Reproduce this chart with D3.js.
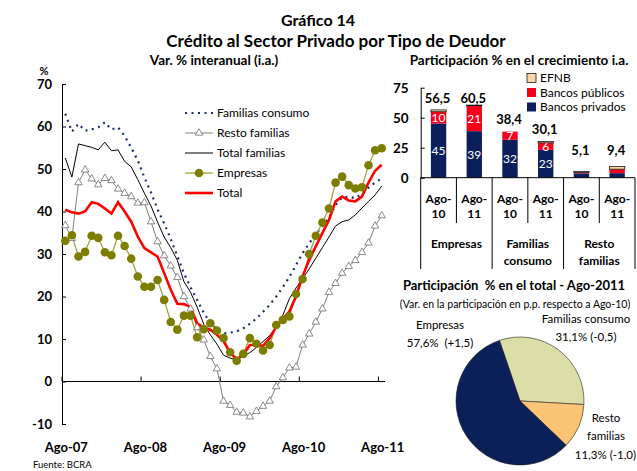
<!DOCTYPE html>
<html>
<head>
<meta charset="utf-8">
<script src="https://cdn.jsdelivr.net/npm/d3@7"></script>
<style>
  body { margin: 0; background: #fff; }
  svg { font-family: Lato, "DejaVu Sans", sans-serif; }
  text { white-space: pre; }
</style>
</head>
<body>
<svg id="chart" width="637" height="471"></svg>
<script>
/*** Data ***/
// Monthly y-o-y growth, Ago-07 .. Ago-11 (49 months)
const familiasConsumo = [63.0, 58.8, 60.6, 59.0, 59.3, 59.8, 61.0, 59.3, 59.8, 57.8, 55.0, 52.0, 48.0,
  44.5, 40.5, 37.2, 33.5, 29.5, 25.5, 22.2, 19.2, 16.2, 13.8, 12.2, 11.3,
  11.5, 11.8, 12.5, 13.6, 14.8, 16.4, 18.0, 20.0, 22.2, 24.6, 27.4, 30.2,
  32.5, 34.7, 36.5, 38.6, 41.5, 43.3, 43.5, 43.1, 44.2, 45.6, 46.8, 47.8];
const restoFamilias = [36.7, 33.7, 46.8, 49.8, 47.7, 46.3, 47.8, 47.3, 45.3, 44.3, 43.5, 42.0, 42.1,
  37.6, 32.9, 29.6, 27.2, 24.5, 20.0, 17.1, 12.7, 9.8, 5.9, 3.0, -4.6,
  -5.6, -7.2, -7.4, -8.3, -7.0, -5.8, -4.6, -1.2, 0.9, 3.2, 3.4, 8.6,
  11.2, 14.0, 17.1, 21.0, 23.1, 25.5, 27.1, 28.5, 30.4, 32.6, 36.6, 39.0];
const totalFamilias = [52.6, 48.1, 55.9, 55.5, 55.1, 54.5, 56.3, 54.3, 54.5, 51.8, 50.5, 47.5, 44.3,
  41.3, 37.5, 34.0, 31.5, 28.5, 23.5, 21.0, 17.5, 13.5, 11.0, 8.8, 6.2,
  5.5, 5.1, 6.0, 6.8, 8.0, 9.4, 10.8, 12.8, 15.6, 19.5, 22.0, 24.2,
  26.5, 29.0, 31.5, 34.0, 36.6, 37.6, 38.0, 39.2, 40.8, 42.4, 43.9, 46.0];
const empresas = [33.1, 34.4, 29.4, 30.5, 34.3, 33.8, 30.4, 29.7, 34.3, 31.9, 28.9, 24.7, 22.3,
  22.3, 23.9, 19.2, 14.0, 12.2, 15.5, 15.5, 10.4, 12.3, 13.7, 12.0, 10.2,
  6.9, 4.9, 6.5, 10.2, 8.9, 7.3, 8.6, 13.3, 14.5, 15.3, 20.6, 24.1,
  30.0, 34.3, 37.4, 40.7, 46.8, 48.2, 46.2, 45.4, 45.7, 50.9, 54.4, 54.9];
const total = [40.4, 39.8, 39.5, 40.0, 42.2, 41.8, 40.7, 39.5, 42.2, 40.0, 37.6, 34.1, 31.4,
  30.4, 29.4, 25.5, 21.6, 18.3, 18.2, 17.5, 13.7, 12.7, 12.2, 11.0, 9.5,
  6.8, 5.3, 6.3, 8.6, 8.6, 8.4, 10.2, 12.9, 14.7, 16.5, 20.0, 24.8,
  28.6, 31.8, 34.9, 38.0, 42.4, 43.5, 42.6, 42.4, 43.5, 46.8, 49.6, 51.0];
const yearLabels = ["Ago-07", "Ago-08", "Ago-09", "Ago-10", "Ago-11"];
const yTicks = [-10, 0, 10, 20, 30, 40, 50, 60, 70];

// Participation in growth (stacked bars)
const barGroups = ["Empresas", "Familias consumo", "Resto familias"];
const barPeriods = ["Ago-10", "Ago-11"];
const bancosPrivados = [45.2, 38.8, 31.6, 23.2, 3.6, 3.8];
const bancosPublicos = [9.8, 21.2, 6.8, 5.9, 0.8, 3.3];
const efnb = [1.5, 0.5, 0.0, 1.0, 0.7, 2.3];
const barTotals = [56.5, 60.5, 38.4, 30.1, 5.1, 9.4];
const barTicks = [0, 25, 50, 75];

// Share in total (pie)
const pieNames = ["Familias consumo", "Resto familias", "Empresas"];
const pieShares = [31.1, 11.3, 57.6];
const pieChanges = [-0.5, -1.0, 1.5];

// Spanish decimals with a plain hyphen for negatives
const fmt = v => d3.format(".1f")(v).replace("\u2212", "-").replace(".", ",");
const svg = d3.select("#chart");

/*** Titles ***/
svg.append("text").attr("x", 318).attr("y", 26).attr("text-anchor", "middle")
    .style("font-weight", "bold").style("font-size", "16px").text("Gráfico 14");
svg.append("text").attr("x", 336).attr("y", 47).attr("text-anchor", "middle")
    .style("font-weight", "bold").style("font-size", "17px").text("Crédito al Sector Privado por Tipo de Deudor");
svg.append("text").attr("x", 214).attr("y", 65).attr("text-anchor", "middle")
    .style("font-weight", "bold").style("font-size", "13.5px").text("Var. % interanual (i.a.)");
svg.append("text").attr("x", 519).attr("y", 65).attr("text-anchor", "middle")
    .style("font-weight", "bold").style("font-size", "13.5px").text("Participación % en el crecimiento i.a.");

/*** Line chart ***/
const x = d3.scaleBand().domain(d3.range(total.length)).range([62, 385]);
const xc = i => x(i) + x.bandwidth() / 2;
const y = d3.scaleLinear().domain([-10, 70]).range([424, 84]);

const yAxis = svg.append("g").attr("transform", "translate(62,0)")
    .call(d3.axisLeft(y).tickValues(yTicks).tickFormat(d => String(d))
      .tickSizeInner(-4).tickSizeOuter(0).tickPadding(10));
yAxis.selectAll("text").style("font-size", "13px").style("font-weight", "bold")
    .style("font-family", "Lato, 'DejaVu Sans', sans-serif").attr("fill", "#000");
yAxis.selectAll("line, path").attr("stroke", "#000");
svg.append("text").attr("x", 44).attr("y", 75).attr("text-anchor", "middle")
    .style("font-weight", "bold").style("font-size", "11px").text("%");

// x axis along zero with year ticks
svg.append("line").attr("x1", 62).attr("x2", 385).attr("y1", y(0)).attr("y2", y(0))
    .attr("stroke", "#000");
yearLabels.forEach((lab, k) => {
  const i = k * 12;
  svg.append("line").attr("x1", x(i)).attr("x2", x(i))
      .attr("y1", y(0)).attr("y2", y(0) - 5).attr("stroke", "#000");
  svg.append("text").attr("x", xc(i) + 1).attr("y", 452).attr("text-anchor", "middle")
      .style("font-weight", "bold").style("font-size", "13px").text(lab);
});
svg.append("text").attr("x", 33).attr("y", 468).style("font-size", "9.5px").text("Fuente: BCRA");

const line = d3.line().x((d, i) => xc(i)).y(d => y(d));

svg.append("path").datum(restoFamilias).attr("d", line)
    .attr("fill", "none").attr("stroke", "#808080").attr("stroke-width", 1);
svg.append("path").datum(totalFamilias).attr("d", line)
    .attr("fill", "none").attr("stroke", "#000").attr("stroke-width", 1);
svg.append("path").datum(familiasConsumo).attr("d", line)
    .attr("fill", "none").attr("stroke", "#1c2f6e").attr("stroke-width", 2.2)
    .attr("stroke-dasharray", "2,4.5");
svg.append("path").datum(empresas).attr("d", line)
    .attr("fill", "none").attr("stroke", "#a3a342").attr("stroke-width", 1.3);
svg.append("path").datum(total).attr("d", line)
    .attr("fill", "none").attr("stroke", "#ff0000").attr("stroke-width", 2.6);

const tri = d3.symbol(d3.symbolTriangle, 24);
svg.append("g").selectAll("path").data(restoFamilias).enter().append("path")
    .attr("d", tri).attr("transform", (d, i) => "translate(" + xc(i) + "," + y(d) + ")")
    .attr("fill", "#fff").attr("stroke", "#6e6e6e").attr("stroke-width", 0.8);
svg.append("g").selectAll("circle").data(empresas).enter().append("circle")
    .attr("cx", (d, i) => xc(i)).attr("cy", d => y(d)).attr("r", 4.3)
    .attr("fill", "#7d7d00");

// Legend
const legendItems = [
  {name: "Familias consumo", color: "#1c2f6e", width: 2.2, dash: "2,4.5"},
  {name: "Resto familias", color: "#808080", width: 1, marker: "tri"},
  {name: "Total familias", color: "#000", width: 1},
  {name: "Empresas", color: "#a3a342", width: 1.3, marker: "dot"},
  {name: "Total", color: "#ff0000", width: 2.6}
];
legendItems.forEach((it, k) => {
  const ly = 113 + k * 20;
  svg.append("line").attr("x1", 185).attr("x2", 213).attr("y1", ly).attr("y2", ly)
      .attr("stroke", it.color).attr("stroke-width", it.width)
      .attr("stroke-dasharray", it.dash || null);
  if (it.marker == "tri") {
    svg.append("path").attr("d", tri).attr("transform", "translate(199," + ly + ")")
        .attr("fill", "#fff").attr("stroke", "#6e6e6e").attr("stroke-width", 0.8);
  }
  if (it.marker == "dot") {
    svg.append("circle").attr("cx", 199).attr("cy", ly).attr("r", 4.3).attr("fill", "#7d7d00");
  }
  svg.append("text").attr("x", 217).attr("y", ly).attr("dy", "0.35em")
      .style("font-size", "12px").text(it.name);
});

/*** Stacked bar chart ***/
const barRows = bancosPrivados.map((v, i) => ({
  id: i, privados: v, publicos: bancosPublicos[i], efnb: efnb[i]
}));
const keys = ["privados", "publicos", "efnb"];
const barColors = {privados: "#0b1f5c", publicos: "#f5001a", efnb: "#fcd6a6"};
const series = d3.stack().keys(keys)(barRows);

const bx = d3.scaleBand().domain(d3.range(barRows.length)).range([420.7, 635])
    .paddingInner(0.57).paddingOuter(0.285);
const by = d3.scaleLinear().domain([0, 75]).range([177.7, 87.7]);

const bAxis = svg.append("g").attr("transform", "translate(420.7,0)")
    .call(d3.axisLeft(by).tickValues(barTicks).tickSizeInner(-4).tickSizeOuter(0).tickPadding(12));
bAxis.selectAll("text").style("font-size", "13.5px").style("font-weight", "bold")
    .style("font-family", "Lato, 'DejaVu Sans', sans-serif").attr("fill", "#000");
bAxis.selectAll("line, path").attr("stroke", "#000");

series.forEach(s => {
  svg.append("g").selectAll("rect").data(s.filter(d => d[1] - d[0] > 0)).enter().append("rect")
      .attr("x", d => bx(d.data.id))
      .attr("y", d => by(d[1]))
      .attr("width", bx.bandwidth())
      .attr("height", d => by(d[0]) - by(d[1]))
      .attr("fill", barColors[s.key])
      .attr("stroke", s.key == "efnb" ? "#1a1a1a" : "none")
      .attr("stroke-width", 0.8);
  if (s.key != "efnb") {
    svg.append("g").selectAll("text").data(s.filter(d => d[1] - d[0] >= 5)).enter().append("text")
        .attr("x", d => bx(d.data.id) + bx.bandwidth() / 2)
        .attr("y", d => by((d[0] + d[1]) / 2)).attr("dy", "0.36em")
        .attr("text-anchor", "middle").attr("fill", "#fff").style("font-size", "12px")
        .text(d => Math.round(d[1] - d[0]));
  }
});
svg.append("g").selectAll("text").data(barTotals).enter().append("text")
    .attr("x", (d, i) => bx(i) + bx.bandwidth() / 2 - 1)
    .attr("y", d => Math.max(103, Math.min(155, by(d) - 8)))
    .attr("text-anchor", "middle").style("font-weight", "bold").style("font-size", "13px")
    .text(d => fmt(d));

// category axis (periods + groups)
svg.append("line").attr("x1", 420.7).attr("x2", 635).attr("y1", by(0)).attr("y2", by(0))
    .attr("stroke", "#000");
const step = bx.step();
d3.range(barRows.length + 1).forEach(i => {
  const gx = 420.7 + i * step;
  svg.append("line").attr("x1", gx).attr("x2", gx).attr("y1", by(0))
      .attr("y2", i % 2 == 0 ? 269 : 223).attr("stroke", "#000");
});
barRows.forEach((d, i) => {
  const cx = bx(i) + bx.bandwidth() / 2;
  const lab = barPeriods[i % 2].split("-");
  svg.append("text").attr("x", cx).attr("y", 203).attr("text-anchor", "middle")
      .style("font-weight", "bold").style("font-size", "12px").text(lab[0] + "-");
  svg.append("text").attr("x", cx).attr("y", 218).attr("text-anchor", "middle")
      .style("font-weight", "bold").style("font-size", "12px").text(lab[1]);
});
barGroups.forEach((g, k) => {
  const cx = 420.7 + (k * 2 + 1) * step;
  const words = k == 0 ? [g] : g.split(" ");
  words.forEach((w, j) => {
    svg.append("text").attr("x", cx).attr("y", 248 + j * 17).attr("text-anchor", "middle")
        .style("font-weight", "bold").style("font-size", "12px").text(w);
  });
});

// legend
const barLegend = [
  {name: "EFNB", key: "efnb"},
  {name: "Bancos públicos", key: "publicos"},
  {name: "Bancos privados", key: "privados"}
];
barLegend.forEach((it, k) => {
  const ly = 78 + k * 14.5;
  svg.append("rect").attr("x", 527).attr("y", ly - 4.5).attr("width", 9).attr("height", 9)
      .attr("fill", barColors[it.key])
      .attr("stroke", it.key == "efnb" ? "#1a1a1a" : "none").attr("stroke-width", 0.8);
  svg.append("text").attr("x", 540).attr("y", ly).attr("dy", "0.36em")
      .style("font-size", "12px").text(it.name);
});

/*** Pie chart ***/
svg.append("text").attr("x", 514).attr("y", 290).attr("text-anchor", "middle")
    .style("font-weight", "bold").style("font-size", "13px")
    .text("Participación  % en el total - Ago-2011");
svg.append("text").attr("x", 515).attr("y", 308).attr("text-anchor", "middle")
    .style("font-size", "10.5px")
    .text("(Var. en la participación en p.p. respecto a Ago-10)");

const start = -18.8 * Math.PI / 180;
const pie = d3.pie().sort(null).startAngle(start).endAngle(start + 2 * Math.PI);
const arc = d3.arc().innerRadius(0).outerRadius(64);
const pieColors = ["#dcdea8", "#fcc575", "#0b1f59"];
svg.append("g").attr("transform", "translate(520,401)")
    .selectAll("path").data(pie(pieShares)).enter().append("path")
    .attr("d", arc).attr("fill", (d, i) => pieColors[i])
    .attr("stroke", "#222").attr("stroke-width", 0.6);

const signed = v => (v > 0 ? "+" : "") + fmt(v);
const pieLabels = [
  {lines: ["Familias consumo", fmt(pieShares[0]) + "% (" + signed(pieChanges[0]) + ")"], x: 586, y: 323},
  {lines: ["Resto", "familias"], x: 606, y: 422},
  {lines: ["Empresas", fmt(pieShares[2]) + "%  (" + signed(pieChanges[2]) + ")"], x: 440, y: 329}
];
pieLabels.forEach(p => {
  p.lines.forEach((t, j) => {
    svg.append("text").attr("x", p.x).attr("y", p.y + j * 18)
        .attr("text-anchor", "middle").style("font-size", "11.5px").text(t);
  });
});
// last line of "Resto familias" hugs the right edge
svg.append("text").attr("x", 636).attr("y", 459).attr("text-anchor", "end")
    .style("font-size", "11.5px")
    .text(fmt(pieShares[1]) + "% (" + signed(pieChanges[1]) + ")");
</script>
</body>
</html>
